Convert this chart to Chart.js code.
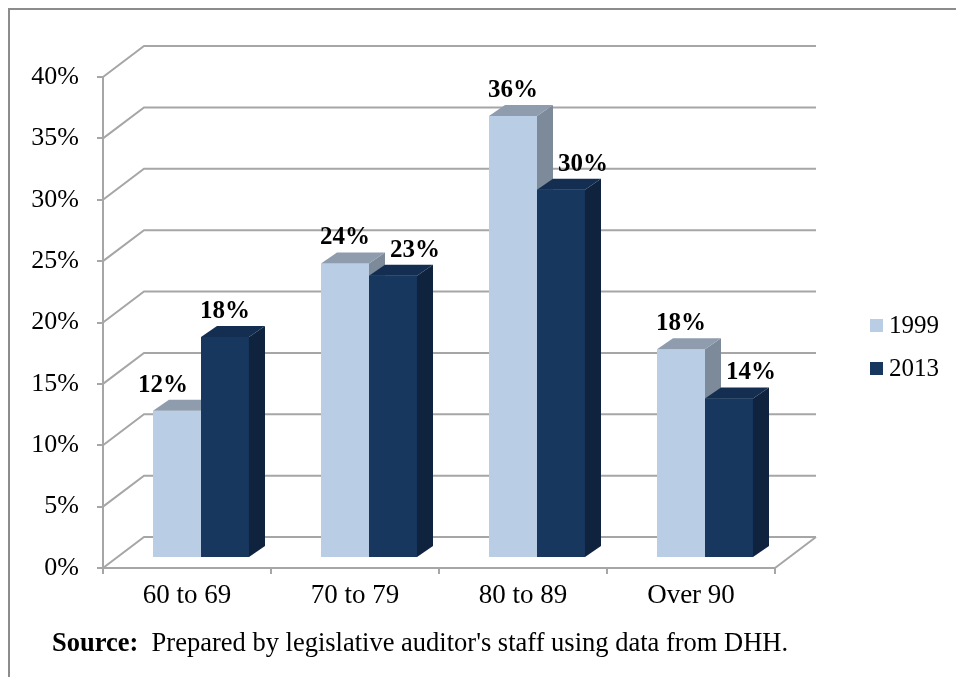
<!DOCTYPE html>
<html>
<head>
<meta charset="utf-8">
<script src="https://cdn.jsdelivr.net/npm/chart.js@4.4.1/dist/chart.umd.min.js"></script>
<style>
  body { margin: 0; background: #fff; }
  #wrap { position: relative; width: 956px; height: 677px; overflow: hidden; background: #fff; }
  #frame { position: absolute; left: 8px; top: 8px; right: -10px; bottom: -10px;
           border-left: 2px solid #8c8c8c; border-top: 2px solid #8c8c8c; }
  #chart { position: absolute; left: 0; top: 0; }
  #source { position: absolute; left: 52px; top: 629px; font: 26.5px/26.5px "Liberation Serif", "Times New Roman", serif;
            color: #000; white-space: nowrap; }
</style>
</head>
<body>
<div id="wrap">
  <div id="frame"></div>
  <canvas id="chart" width="956" height="677"></canvas>
  <div id="source"><b>Source:</b>&nbsp; Prepared by legislative auditor's staff using data from DHH.</div>
</div>
<script>
'use strict'

// data
let categories = ['60 to 69', '70 to 79', '80 to 89', 'Over 90'];
let values1999 = [12, 24, 36, 17];
let values2013 = [18, 23, 30, 13];
let labels1999 = ['12%', '24%', '36%', '18%'];     // printed data labels
let labels2013 = ['18%', '23%', '30%', '14%'];
let seriesNames = ['1999', '2013'];
let yMin = 0, yMax = 40, yStep = 5;

let serif = '"Liberation Serif", "Times New Roman", serif';
let gridColor = '#a6a6a6';

// 3d look: back wall offset, bar plane offset, bar depth
let WALL_DX = 41, WALL_DY = -31;
let BAR_DX = 14, BAR_DY = -10;
let DEPTH_DX = 16, DEPTH_DY = -11;

let frontColors = ['#b9cde5', '#17375e'];
let sideColors = ['#7d8a9a', '#10233e'];
let topColors = ['#8e9cad', '#132e50'];

function drawFaces(ctx, bar, d) {
  let left = bar.x - bar.width / 2;
  let right = bar.x + bar.width / 2;
  let top = bar.y, bottom = bar.base;
  // side
  ctx.fillStyle = sideColors[d];
  ctx.beginPath();
  ctx.moveTo(right, top);
  ctx.lineTo(right + DEPTH_DX, top + DEPTH_DY);
  ctx.lineTo(right + DEPTH_DX, bottom + DEPTH_DY);
  ctx.lineTo(right, bottom);
  ctx.closePath();
  ctx.fill();
  // top
  ctx.fillStyle = topColors[d];
  ctx.beginPath();
  ctx.moveTo(left, top);
  ctx.lineTo(left + DEPTH_DX, top + DEPTH_DY);
  ctx.lineTo(right + DEPTH_DX, top + DEPTH_DY);
  ctx.lineTo(right, top);
  ctx.closePath();
  ctx.fill();
}

let cubePlugin = {
  id: 'cube',
  beforeDatasetsDraw(chart) {
    let ctx = chart.ctx;
    let a = chart.chartArea;
    let y = chart.scales.y;
    ctx.save();
    ctx.strokeStyle = gridColor;
    ctx.lineWidth = 2;
    ctx.beginPath();
    y.ticks.forEach(t => {
      let py = y.getPixelForValue(t.value);
      ctx.moveTo(a.left, py);
      ctx.lineTo(a.left + WALL_DX, py + WALL_DY);
      ctx.lineTo(a.right + WALL_DX, py + WALL_DY);
    });
    ctx.moveTo(a.right, a.bottom);
    ctx.lineTo(a.right + WALL_DX, a.bottom + WALL_DY);
    ctx.stroke();
    ctx.restore();

    ctx.save();
    ctx.translate(BAR_DX, BAR_DY);   // bars stand in the middle of the floor
  },
  afterDatasetsDraw(chart) {
    let ctx = chart.ctx;
    let m0 = chart.getDatasetMeta(0);
    let m1 = chart.getDatasetMeta(1);
    m0.data.forEach((b0, i) => {
      let b1 = m1.data[i];
      drawFaces(ctx, b0, 0);
      b1.draw(ctx);          // 2013 bar sits in front of the 1999 side face
      drawFaces(ctx, b1, 1);
    });

    // data labels
    ctx.font = 'bold 25px ' + serif;
    ctx.fillStyle = '#000';
    ctx.textAlign = 'center';
    ctx.textBaseline = 'alphabetic';
    let texts = [labels1999, labels2013];
    [m0, m1].forEach((meta, d) => {
      let other = d === 0 ? m1 : m0;
      meta.data.forEach((b, i) => {
        let shift = 0;
        if (other.data[i].y < b.y) shift = d === 0 ? -14 : 22;
        ctx.fillText(texts[d][i], b.x + shift, b.y + DEPTH_DY - 8);
      });
    });
    ctx.restore();
  },
  afterDraw(chart) {
    let ctx = chart.ctx;
    ctx.save();
    ctx.font = '25px ' + serif;
    ctx.textBaseline = 'middle';
    ctx.textAlign = 'left';
    chart.data.datasets.forEach((ds, d) => {
      let cy = 325 + d * 43;
      ctx.fillStyle = ds.backgroundColor;
      ctx.fillRect(870, cy - 6, 13, 13);
      ctx.fillStyle = '#000';
      ctx.fillText(ds.label, 889, cy + 1);
    });
    ctx.restore();
  }
};

let ctx = document.getElementById('chart').getContext('2d');

let chart = new Chart(ctx, {
  type: 'bar',
  data: {
    labels: categories,
    datasets: [
      {
        label: seriesNames[0],
        data: values1999,
        backgroundColor: frontColors[0],
        borderWidth: 0,
        clip: false
      },
      {
        label: seriesNames[1],
        data: values2013,
        backgroundColor: frontColors[1],
        borderWidth: 0,
        clip: false
      }
    ]
  },
  options: {
    responsive: false,
    animation: false,
    devicePixelRatio: 1,
    categoryPercentage: 0.5714,
    barPercentage: 1,
    layout: { padding: { top: 77, right: 181, left: 0, bottom: 0 } },
    plugins: {
      legend: { display: false },
      tooltip: { enabled: false }
    },
    scales: {
      x: {
        grid: { drawOnChartArea: false, offset: true, tickLength: 6, color: gridColor, lineWidth: 2 },
        border: { color: gridColor, width: 2 },
        ticks: { font: { family: serif, size: 27 }, color: '#000', padding: 6, maxRotation: 0 },
        afterFit: s => { s.height = 109; }
      },
      y: {
        min: yMin,
        max: yMax,
        grid: { drawOnChartArea: false, tickLength: 6, color: gridColor, lineWidth: 2 },
        border: { color: gridColor, width: 2 },
        ticks: {
          stepSize: yStep,
          font: { family: serif, size: 26 },
          color: '#000',
          padding: 18,
          callback: v => v + '%'
        },
        afterFit: s => { s.width = 103; }
      }
    }
  },
  plugins: [cubePlugin]
});
</script>
</body>
</html>
